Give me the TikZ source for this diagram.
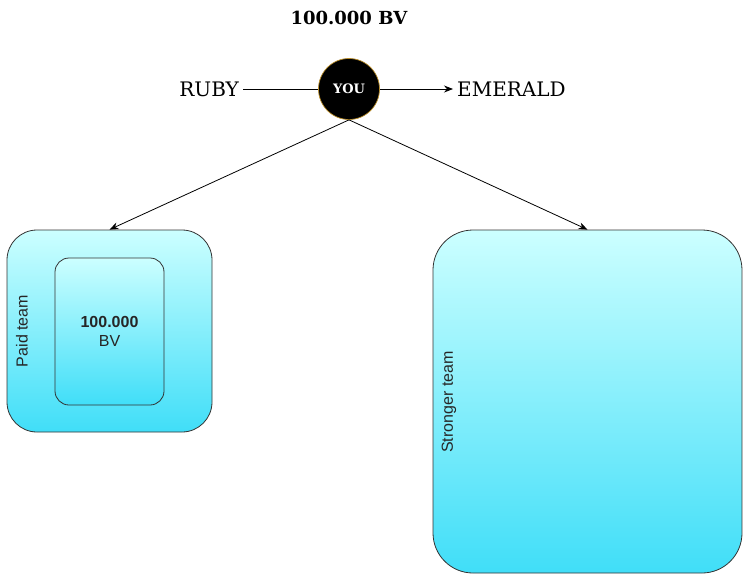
\documentclass[tikz,border=0pt]{standalone}
\usepackage{fontspec}
\setmainfont{DejaVu Serif}
\newfontfamily\arialf{Liberation Sans}
\usetikzlibrary{arrows.meta}
\definecolor{topc}{RGB}{204,255,255}
\definecolor{botc}{RGB}{64,222,248}
\definecolor{edgec}{RGB}{51,51,51}
\definecolor{goldc}{RGB}{184,140,40}
\begin{document}
\begin{tikzpicture}[x=1pt,y=-1pt,
  box/.style={draw=edgec,line width=0.8pt,top color=topc,bottom color=botc,shading angle=0},
  sertext/.style={font=\fontsize{20}{24}\selectfont,inner sep=4pt},
  sanstext/.style={font=\arialf\fontsize{16}{19}\selectfont,text=black!85},
  conn/.style={line width=0.8pt,black},
  arr/.style={conn,-{Stealth[length=9pt,width=7pt]}}]
\useasboundingbox (0,0) rectangle (743,574);
\node[font=\bfseries\fontsize{18}{22}\selectfont] (title) at (349,18) {100.000 BV};
\node[circle,fill=black,draw=goldc,line width=0.7pt,minimum size=61pt,inner sep=0pt,text=white,font=\bfseries\fontsize{13}{15}\selectfont] (you) at (349,89) {YOU};
\node[sertext,anchor=east] (ruby) at (243,89) {RUBY};
\node[sertext,anchor=west] (emer) at (453,89) {EMERALD};
\node[box,rounded corners=30pt,minimum width=205pt,minimum height=202pt,inner sep=0pt] (paid) at (109.5,331) {};
\node[box,rounded corners=14pt,minimum width=109pt,minimum height=147pt,inner sep=0pt,align=center,sanstext] (inner) at (109.5,331.5) {\textbf{100.000}\\BV};
\node[box,rounded corners=40pt,minimum width=309pt,minimum height=343pt,inner sep=0pt] (strong) at (587.5,401.5) {};
\node[sanstext,rotate=90] (paidl) at (22,331) {Paid team};
\node[sanstext,rotate=90] (strongl) at (449,402) {Stronger team};
\draw[conn] (ruby.east) -- (you.west);
\draw[arr] (you.east) -- (emer.west);
\draw[arr] (you.south) -- (paid.north);
\draw[arr] (you.south) -- (strong.north);
\end{tikzpicture}
\end{document}
